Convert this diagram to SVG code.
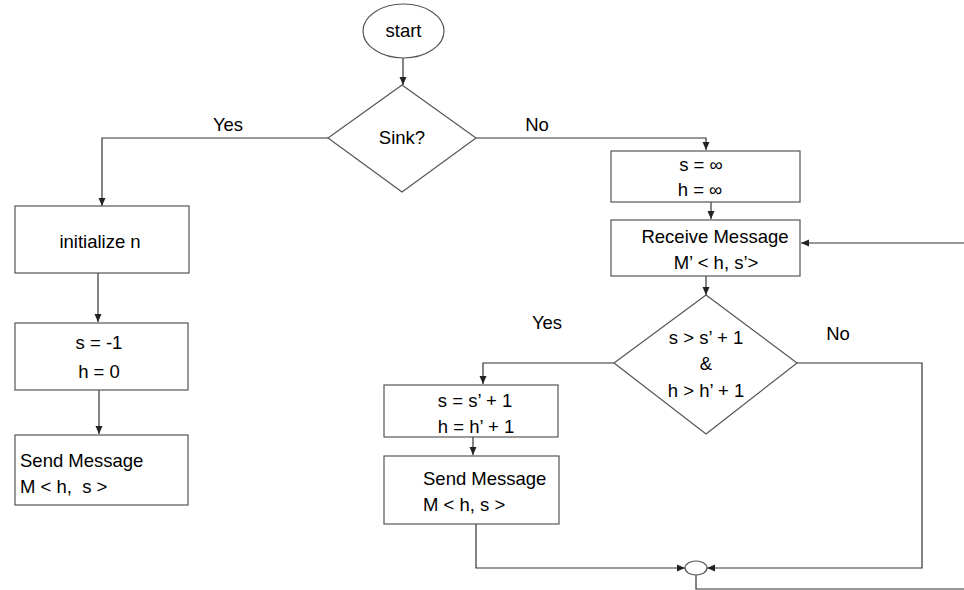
<svg xmlns="http://www.w3.org/2000/svg" width="964" height="590" viewBox="0 0 964 590">
<style>
.s{fill:#fff;stroke:#555;stroke-width:1.2}
.c{fill:none;stroke:#333;stroke-width:1.2}
text{font-family:"Liberation Sans",Arial,sans-serif;font-size:18.5px;fill:#000}
.m{text-anchor:middle}
</style>
<defs>
<marker id="a" viewBox="0 0 8 8" refX="8" refY="4" markerWidth="8" markerHeight="8" markerUnits="userSpaceOnUse" orient="auto">
<path d="M0,0.5 L8,4 L0,7.5 Z" fill="#222"/>
</marker>
</defs>
<g id="connectors">
<path class="c" d="M403,58 V85" marker-end="url(#a)"/>
<path class="c" d="M328,138 H102 V206" marker-end="url(#a)"/>
<path class="c" d="M98,273 V322" marker-end="url(#a)"/>
<path class="c" d="M99,390 V434" marker-end="url(#a)"/>
<path class="c" d="M476,138 H706 V150" marker-end="url(#a)"/>
<path class="c" d="M711,202 V219" marker-end="url(#a)"/>
<path class="c" d="M964,243 H801" marker-end="url(#a)"/>
<path class="c" d="M706,276 V295" marker-end="url(#a)"/>
<path class="c" d="M614,363 H483 V384" marker-end="url(#a)"/>
<path class="c" d="M797,363 H922 V568 H707" marker-end="url(#a)"/>
<path class="c" d="M473,437 V455" marker-end="url(#a)"/>
<path class="c" d="M476,524 V568 H685" marker-end="url(#a)"/>
<path class="c" d="M696,575 V589 H964"/>
<text x="228" y="131" class="m">Yes</text>
<text x="537" y="131" class="m">No</text>
<text x="547" y="329" class="m">Yes</text>
<text x="838" y="340" class="m">No</text>
</g>
<g id="start">
<ellipse class="s" cx="403.5" cy="31" rx="40.5" ry="27"/>
<text x="403.5" y="37" class="m">start</text>
</g>
<g id="sink">
<polygon class="s" points="402,85 476,138 402,192 328,138"/>
<text x="402" y="144" class="m">Sink?</text>
</g>
<g id="init">
<rect class="s" x="15" y="206" width="174" height="67"/>
<text x="100" y="248" class="m">initialize n</text>
</g>
<g id="setsink">
<rect class="s" x="15" y="323" width="173" height="67"/>
<text x="99" y="349" class="m">s = -1</text>
<text x="99" y="378" class="m">h = 0</text>
</g>
<g id="sendsink">
<rect class="s" x="15" y="435" width="173" height="70"/>
<text x="20" y="467">Send Message</text>
<text x="20" y="493">M &lt; h,&#160; s &gt;</text>
</g>
<g id="setinf">
<rect class="s" x="611" y="151" width="189" height="51"/>
<text x="701" y="171" class="m">s = ∞</text>
<text x="700" y="196" class="m">h = ∞</text>
</g>
<g id="receive">
<rect class="s" x="611" y="220" width="189" height="56"/>
<text x="715" y="243" class="m">Receive Message</text>
<text x="716" y="269" class="m">M’ &lt; h, s’&gt;</text>
</g>
<g id="cond">
<polygon class="s" points="706,295 797,363 706,434 614,363"/>
<text x="706" y="344" class="m">s &gt; s’ + 1</text>
<text x="706" y="370" class="m">&amp;</text>
<text x="706" y="397" class="m">h &gt; h’ + 1</text>
</g>
<g id="update">
<rect class="s" x="384" y="385" width="174" height="52"/>
<text x="475" y="407" class="m">s = s’ + 1</text>
<text x="476" y="433" class="m">h = h’ + 1</text>
</g>
<g id="send">
<rect class="s" x="384" y="456" width="175" height="68"/>
<text x="423" y="485">Send Message</text>
<text x="423" y="511">M &lt; h, s &gt;</text>
</g>
<g id="merge">
<ellipse class="s" cx="696" cy="568" rx="11" ry="7"/>
</g>
</svg>
